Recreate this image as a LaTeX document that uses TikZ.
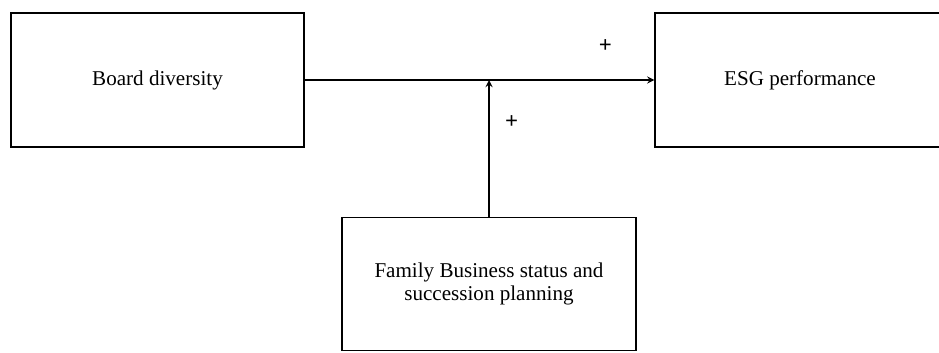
\documentclass[tikz,border=0pt]{standalone}
\usepackage{fontspec}
\setmainfont{Liberation Serif}
\usetikzlibrary{positioning}
\tikzset{box/.style={draw,line width=0.8pt,align=center,inner sep=0pt,font=\fontsize{12}{12.6}\selectfont},
	sign/.style={font=\fontsize{13}{13}\selectfont\bfseries}}

\begin{document}
\begin{tikzpicture}[x=0.02cm,y=-0.02cm]
			\clip (0,0) rectangle (939,352);
			\node[box,minimum width=293*0.02cm,minimum height=134*0.02cm] (bd) at (157.5,80) {Board diversity};
			\node[box,minimum width=290*0.02cm,minimum height=134*0.02cm] (esg) at (800,80) {ESG performance};
			\node[box,minimum width=294*0.02cm,minimum height=133*0.02cm] (fb) at (489,284) {Family Business status and\\ succession planning};
			\coordinate (mod) at (fb.north |- bd.east);
			\path[-stealth,line width=0.8pt]
			(bd) edge node [sign,pos=0.86,above=12pt] {+} (esg)
			(fb) edge node [sign,pos=0.69,right=5.5pt] {+} (mod);
		\end{tikzpicture}
\end{document}
